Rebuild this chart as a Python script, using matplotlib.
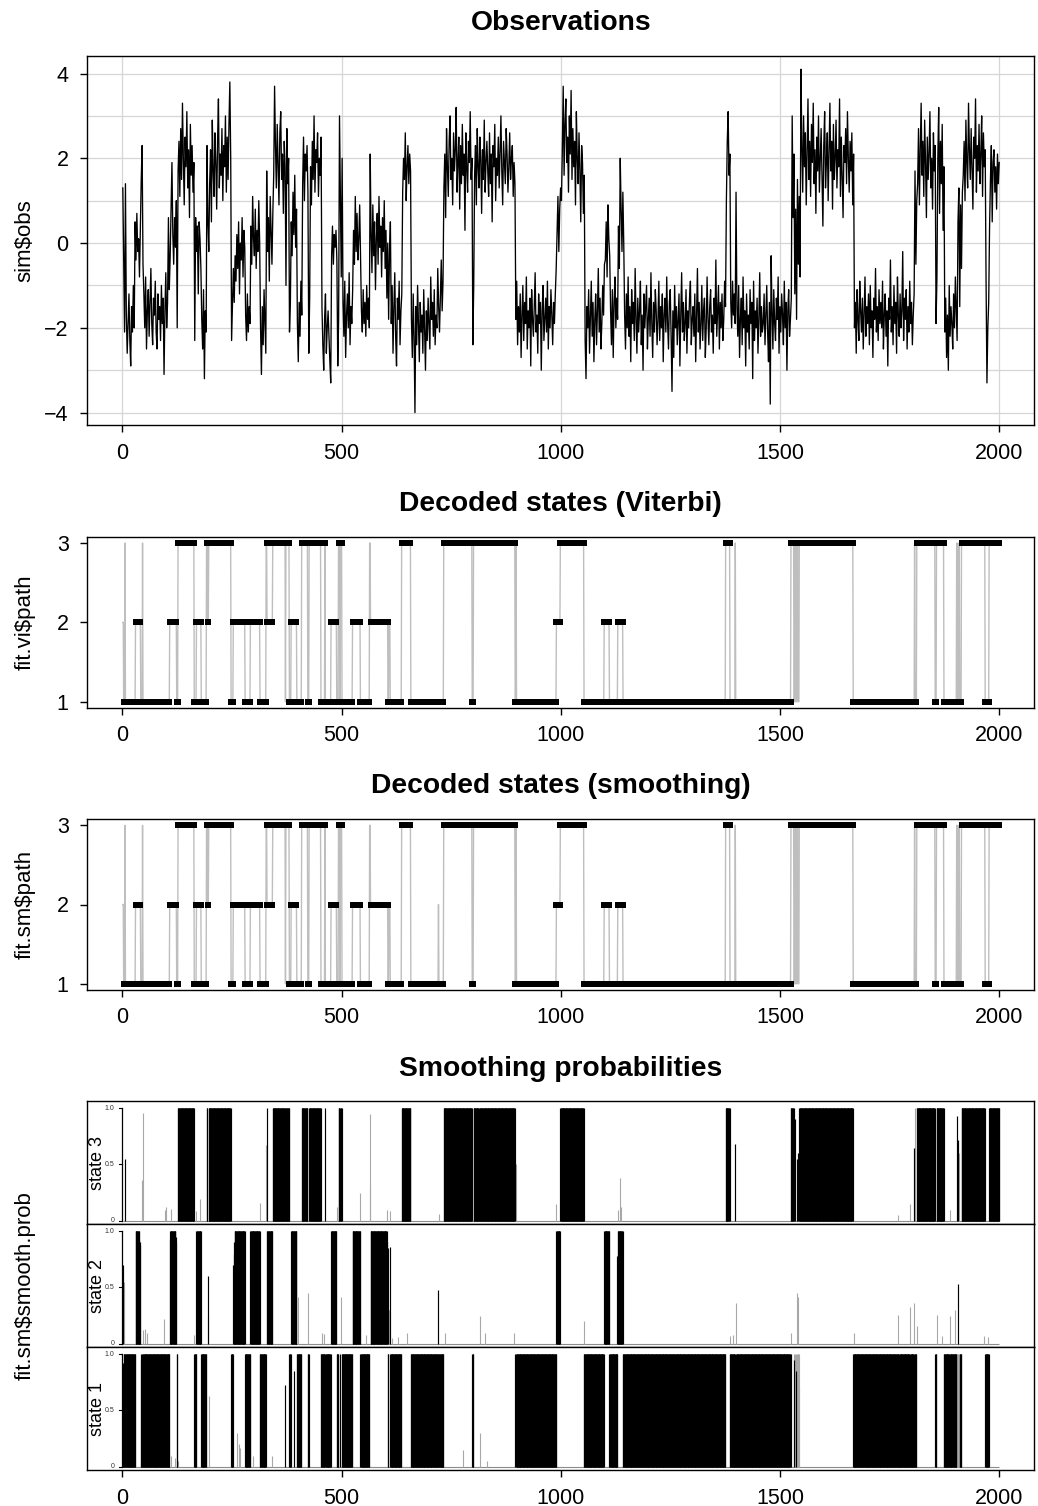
import numpy as np
import matplotlib
matplotlib.use('Agg')
import matplotlib.pyplot as plt

plt.rcParams['font.family'] = ['Liberation Sans', 'DejaVu Sans']

# ---------------- data ----------------
x_ticks = [0, 500, 1000, 1500, 2000]
obs_yticks = [-4, -2, 0, 2, 4]
obs_grid_y = [-4, -3, -2, -1, 0, 1, 2, 3, 4]
state_yticks = [1, 2, 3]
prob_yticks = [0, 0.5, 1.0]
prob_yticklabels = ['0', '0.5', '1.0']
n_time = 2000

# observations (tenths), read along the series at every second time step
obs_tenths = [
    13, -3, -21, 14,
    -17, -26, -19, -12, -23, -29, -15, -21, -10, -20,
    5, -4, 7, -2, 1, -8, 3,
    15, 23, -5,
    -12, -20, -8, -25, -16, -11, -22, -14, -6, -19, -24, -13, -17, -9, -21, -25, -12, -18, -15, -23,
    -10, -19, -13, -31, -16, -7, -20, -14, 6, -11,
    -3, 8, 19, 2, -5, 6, -1, 10,
    -20,
    17, 24, 11, 27, 15, 33, 20, 9, 25, 18, 31, 13, 22, 6, 28, 16, 23, 12, 19,
    -23,
    6, -2, 4, -12, 5, 1, -6,
    -18, -25, -11, -32, -16, -21,
    23, 5, -2,
    14, 22, 5, 29, 17, 11, 26, 19, 8, 24, 34, 13, 21, 16, 27, 10, 23, 18, 30, 12, 25, 15, 28, 38, 20,
    -23, -15, -6,
    -14, -3, -9, 2, -6, 5, -12, 0, -4, 6, -8, 3, -1,
    -17, -23, -12, -21, -15, -19,
    4, -5, 11, 1, -3, 8, -6, 3, -2, 10, 0,
    -20, -31, -15, -24, -11, -19, -26,
    17,
    -2, 6, -9, 11, 3, -5, 7,
    16, 37, 23, 13, 28, 19, 9, 26, 31, 15, 21, 7, 24, 18, -10, 27, 14, 20,
    -21, -14,
    5, -3, 12, 2, 16, -1, 8,
    -19, -28, -14, -22, -9, -17,
    14, 25, 10, 21, 17, 23, 12,
    -26, -13,
    18, 9, 24, 15, 30, 12, 22, 19, 26, 11, 20, 16, 25,
    -15, -24, -30, -18, -12, -26, -20, -16, -22, -28, -33,
    -3, 4, -5, 2, -1, 3, -4,
    -29, -18,
    30, 12, -8, 20,
    -14, -22, -9, -27, -17, -12, -20, -7, -24, -15, -19, -11,
    3, -5, 11, -2, 7, -4, 1, 9, -3,
    -16, -21, -11, -19, -14, -22, -10, -18, -13, -20,
    21,
    2, -7, 9, -3, 5, -11, 1, 7, -5, 11, -1, 4, -8, 6, -2, 10, -6, 3, -13, 0,
    -18, -2, 5,
    -19, -10, -26, -15, -7, -22, -29, -13, -18, -9, -24, -16, -12,
    12, 20, 15, 26, 10, 18, 23, 14, 21, 17,
    -18, -27, -12, -22, -40, -15, -24, -10, -19, -28, -14, -21, -17, -26, -11, -20, -30, -16, -23,
    -13, -19, -25, -8, -18, -14, -22, -11, -24, -17, -20, -6, -15, -21, -12, -4, -16, -9,
    13, 21, 6, 27, 18, 11, 24, 30, 15, 20, 9, 26, 17, 22, 32, 12, 19, 25, 8, 23, 14, 28, 16, 21,
    3, 26, 18, 12, 24, 19, 31, 15, 20,
    -24, -10,
    16, 23, 9, 27, 18, 13, 25, 20, 7, 22, 15, 29, 12, 19, 24, 17, 11, 26, 14, 21, 5, 23, 18, 28,
    10, 20, 16, 25, 13, 22, 30, 17, 9, 24, 19, 14, 27, 21, 12, 18, 26, 15, 20, 23, 11, 19, 14,
    -18, -9, -24, -15, -21, -12, -27, -17, -10, -23, -14, -19, -8, -25, -16, -20, -13, -29, -11, -18,
    -22, -15, -7, -21, -17, -26, -12, -19, -14, -30, -16, -10, -23, -18, -13, -21, -9, -25, -15, -20,
    -11, -17, -24, -14, -19, -12, -6,
    2, 11, -2, 8, 13,
    10, 22, 37, 16, 28, 34, 19, 25, 12, 30, 21, 36, 15, 27, 18, 24, 9, 31, 20, 14, 26, 17, 5, 23, 19, 7, 16,
    -23, -32, -15, -20, -11, -26, -17, -9, -22, -14, -28, -18, -12, -24, -16, -6, -21, -13, -25, -19, -10, -17, -5,
    -4, 5, -8, 9, 1, -3,
    -16, -24, -11, -27, -14, -8, -20, -13, -18,
    4, -6, 20, 8, -2, 12, 0,
    -17, -25, -12, -20, -8, -22, -15, -28, -11, -19, -14, -23, -6, -18, -26, -13, -21, -16, -9, -24,
    -17, -30, -12, -20, -15, -10, -25, -18, -13, -22, -7, -19, -27, -14, -21, -11, -16, -24, -18, -9,
    -23, -15, -20, -12, -28, -17, -13, -21, -8, -19, -25, -14, -11, -22, -35, -16, -27, -10, -20, -15,
    -24, -18, -12, -29, -17, -7, -21, -14, -23, -19, -11, -26, -16, -20, -13, -9, -24, -18, -15, -22,
    -12, -28, -17, -6, -21, -14, -25, -19, -10, -23, -16, -13, -27, -20, -8, -18, -24, -15, -11, -21,
    -17, -26, -13, -19, -4, -22, -16, -10, -25, -14, -20, -12, -23, -18, -9, -15,
    10, 24, 31, 16, 21,
    -14, -20, -9, -17, -12, -19, 12,
    -15, -22, -10, -27, -18, -13, -24, -8, -20, -16, -29, -12, -21, -17, -25, -11, -19, -14, -32, -9,
    -23, -16, -20, -13, -26, -18, -7, -22, -15, -21, -19, -12, -24, -17, -10, -21, -28, -14, -38, -3,
    -16, -25, -11, -19, -23, -13, -18, -8, -26, -15, -21, -12, -17, -24, -9, -20, -14, -30, -16, -11,
    -22, -18, -13,
    30, 6, 21,
    -12, 8, -18, 15, -5, 11, -8,
    41, 23, 12, 30, 18, 26, 9, 21, 34, 15, 24, 11, 28, 19, 33, 14, 22, 7, 25, 17,
    30, 12, 20, 27, 16, 4, 23, 31, 13, 19, 26, 10, 21, 33, 17, 24, 8, 28, 15, 20,
    29, 13, 22, 18, 34, 11, 25, 16, 6, 23, 19, 27, 14, 31, 20, 12, 24, 17, 26, 9, 21,
    -20, -14, -26, -11, -18, -23, -9, -16, -21, -13, -25, -17, -8, -22, -15, -19, -12, -24, -10, -20,
    -16, -27, -13, -18, -6, -21, -15, -23, -11, -19, -14, -20, -9, -25, -17, -12, -22, -16, -29, -13,
    -18, -4, -21, -15, -24, -10, -19, -14, -26, -8, -17, -22, -12, -20, -16, -2, -23, -13, -18, -11,
    -25, -15, -21, -9, -19, -14, -24, -17, -12,
    17, -5, 10,
    14, 27, 9, 22, 33, 16, 24, 11, 29, 19, 6, 25, 15, 21, 31, 13, 20, 8, 26, 17, 23,
    -19, -8,
    20, 32, 7, 24, 14, 28, 3, 18,
    -21, -13, -27, -17, -30, -10, -22, -15, -19, -25, -12, -20, -8, -16, -23,
    5, 13, -15, 9, -6, 12,
    16, 24, 10, 29, 19, 13, 33, 22, 15, 27, 18, 8, 25, 20, 34, 12, 23, 17, 28, 14, 21, 30, 11, 26, 18, 22,
    -9, -33, -20, -14, 4,
    15, 23, 5, 19, 22, 12, 18, 8, 21, 14, 19,
]

# decoded state runs (start time, state); each run lasts until the next start
vi_run_start = [1, 3, 6, 7, 30, 42, 46, 47, 108, 124, 127, 164, 169, 180, 192, 195, 197, 248, 253, 280,
                292, 314, 328, 330, 343, 372, 373, 381, 385, 398, 409, 423, 426, 453, 462, 463, 476, 489,
                493, 496, 497, 501, 525, 543, 564, 566, 606, 608, 611, 637, 658, 733, 798, 801, 896, 898,
                899, 990, 999, 1053, 1099, 1111, 1130, 1142, 1376, 1386, 1398, 1399, 1525, 1532, 1534,
                1535, 1538, 1539, 1540, 1541, 1544, 1667, 1807, 1808, 1812, 1854, 1857, 1874, 1903, 1904,
                1906, 1907, 1909, 1910, 1914, 1968, 1977]
vi_run_state = [2, 1, 3, 1, 2, 1, 3, 1, 2, 1, 3, 1, 2, 1, 3, 2, 3, 1, 2, 1,
                2, 1, 3, 2, 3, 1, 3, 1, 2, 1, 3, 1, 3, 1, 3, 1, 2, 1,
                3, 1, 3, 1, 2, 1, 3, 2, 1, 2, 1, 3, 1, 3, 1, 3, 1, 3,
                1, 2, 3, 1, 2, 1, 2, 1, 3, 1, 3, 1, 3, 1, 3,
                1, 3, 1, 3, 1, 3, 1, 3, 1, 3, 1, 3, 1, 3, 1,
                3, 1, 3, 1, 3, 1, 3]
sm_run_start = [1, 3, 6, 7, 30, 42, 46, 47, 108, 124, 127, 164, 169, 180, 192, 195, 197, 248, 253, 280,
                292, 314, 328, 330, 343, 372, 373, 381, 385, 398, 409, 423, 426, 453, 462, 463, 476, 489,
                493, 496, 497, 501, 525, 543, 564, 566, 606, 608, 611, 637, 658, 721, 722, 733, 798, 801,
                896, 898, 899, 990, 999, 1053, 1099, 1111, 1130, 1142, 1376, 1386, 1398, 1399, 1525, 1532,
                1534, 1535, 1538, 1539, 1540, 1541, 1544, 1667, 1807, 1808, 1812, 1854, 1857, 1874, 1903,
                1904, 1906, 1907, 1909, 1910, 1914, 1968, 1977]
sm_run_state = [2, 1, 3, 1, 2, 1, 3, 1, 2, 1, 3, 1, 2, 1, 3, 2, 3, 1, 2, 1,
                2, 1, 3, 2, 3, 1, 3, 1, 2, 1, 3, 1, 3, 1, 3, 1, 2, 1,
                3, 1, 3, 1, 2, 1, 3, 2, 1, 2, 1, 3, 1, 2, 1, 3, 1, 3,
                1, 3, 1, 2, 3, 1, 2, 1, 2, 1, 3, 1, 3, 1, 3, 1,
                3, 1, 3, 1, 3, 1, 3, 1, 3, 1, 3, 1, 3, 1, 3,
                1, 3, 1, 3, 1, 3, 1, 3]

# time steps where the decoded state differs from the simulated one
misclassified_t = [1, 2, 6, 46, 328, 372, 564, 565, 608, 609, 610, 721, 898, 1398,
                   1532, 1533, 1534, 1535, 1536, 1537, 1538, 1539, 1540, 1541, 1542, 1543,
                   1807, 1903, 1904, 1905, 1906, 1907, 1908, 1909]

# smoothing probabilities that are not ~0/1 (time, probability, drawn dark)
s3_spike_t = [6, 44, 46, 97, 100, 112, 169, 178, 192, 314, 328, 489, 542, 564, 565, 603, 610, 723, 814,
              898, 989, 1130, 1134, 1137, 1398, 1534, 1538, 1540, 1769, 1796, 1805, 1888, 1903, 1906, 1909]
s3_spike_p = [0.55, 0.36, 0.96, 0.10, 0.12, 0.11, 0.09, 0.19, 0.92, 0.16, 0.67, 0.12, 0.25, 0.95, 0.30,
              0.10, 0.09, 0.06, 0.30, 0.50, 0.15, 0.10, 0.38, 0.12, 0.68, 0.90, 0.55, 0.60, 0.05, 0.15,
              0.65, 0.10, 0.93, 0.72, 0.60]
s3_spike_dark = [1, 0, 0, 0, 0, 0, 0, 0, 0, 0, 0, 0, 0, 0, 0, 0, 0, 0, 1, 0, 0, 0, 0, 0, 1, 1, 1, 1,
                 0, 0, 1, 0, 1, 1, 0]
s2_spike_t = [1, 2, 3, 4, 39, 40, 41, 48, 52, 56, 95, 108, 122, 123, 163, 195, 196, 253, 254, 255, 400,
              424, 455, 460, 498, 556, 604, 605, 608, 609, 610, 615, 628, 650, 721, 735, 816, 828, 894,
              1052, 1129, 1385, 1393, 1399, 1525, 1539, 1541, 1668, 1769, 1796, 1805, 1812, 1858, 1870,
              1887, 1900, 1907, 1966, 1974]
s2_spike_p = [0.70, 0.58, 0.50, 0.55, 0.92, 0.90, 0.88, 0.12, 0.13, 0.10, 0.22, 0.93, 0.95, 0.90, 0.08,
              0.25, 0.60, 0.70, 0.80, 0.90, 0.42, 0.45, 0.10, 0.09, 0.42, 0.08, 0.90, 0.85, 0.30, 0.30,
              0.86, 0.05, 0.06, 0.10, 0.48, 0.10, 0.25, 0.10, 0.10, 0.20, 0.78, 0.07, 0.08, 0.36, 0.10,
              0.45, 0.42, 0.10, 0.26, 0.33, 0.36, 0.16, 0.26, 0.07, 0.25, 0.30, 0.53, 0.07, 0.06]
s2_spike_dark = [1, 0, 0, 0, 1, 1, 1, 0, 0, 0, 0, 1, 1, 1, 0, 0, 1, 1, 1, 1, 0,
                 0, 0, 0, 0, 0, 1, 1, 0, 0, 1, 0, 0, 0, 1, 0, 0, 0, 0,
                 0, 1, 0, 0, 0, 0, 0, 0, 0, 0, 0, 0, 0, 0, 0,
                 0, 0, 1, 0, 0]
s1_spike_t = [1, 2, 43, 44, 112, 119, 126, 198, 262, 265, 268, 298, 342, 372, 391, 776, 816, 831,
              1398, 1400, 1533, 1537, 1544, 1771, 1796, 1805, 1888]
s1_spike_p = [0.92, 0.90, 0.95, 0.97, 0.10, 0.08, 0.05, 0.63, 0.30, 0.20, 0.17, 0.10, 0.10, 0.73, 0.85,
              0.15, 0.30, 0.05, 0.80, 0.80, 0.95, 0.85, 0.70, 0.90, 0.70, 0.80, 0.70]
s1_spike_dark = [1, 1, 1, 1, 0, 0, 0, 0, 0, 0, 0, 0, 0, 1, 1, 0, 0, 0, 1, 1, 1, 1, 0, 1, 1, 1, 1]

titles = ['Observations', 'Decoded states (Viterbi)', 'Decoded states (smoothing)', 'Smoothing probabilities']
ylabels = ['sim$obs', 'fit.vi$path', 'fit.sm$path', 'fit.sm$smooth.prob']
state_labels = ['state 3', 'state 2', 'state 1']

# ---------------- helpers ----------------
W, H = 1038, 1506
fig = plt.figure(figsize=(W / 100, H / 100), dpi=100)

def rect(l, t, r, b):
    return [l / W, 1 - b / H, (r - l) / W, (b - t) / H]

def expand(starts, states, n):
    path = np.zeros(n, dtype=int)
    for i, s in enumerate(starts):
        e = starts[i + 1] - 1 if i + 1 < len(starts) else n
        path[s - 1:e] = states[i]
    return path

L, R = 87.3, 1034.3
XLIM = (-80, 2080)
TICK_FS = 15.5
TITLE_FS = 20.3
GREY_LINE = '#bebebe'
GREY_SPIKE = '#a8a8a8'

def style(ax, xlabels=True):
    ax.set_xlim(*XLIM)
    ax.set_xticks(x_ticks)
    if xlabels:
        ax.set_xticklabels([str(v) for v in x_ticks])
    for sp in ax.spines.values():
        sp.set_linewidth(1.0)
    ax.tick_params(axis='both', direction='out', length=5, width=1.0, labelsize=TICK_FS)
    ax.tick_params(axis='x', pad=7.5)
    ax.tick_params(axis='y', pad=8.4)

def title(text, baseline_px):
    fig.text((L + R) / 2 / W, 1 - baseline_px / H, text, ha='center', va='baseline',
             fontsize=TITLE_FS, fontweight='bold')

def ylab(text, center_px):
    fig.text(25 / W, 1 - center_px / H, text, ha='center', va='center', rotation=90, fontsize=16)

# ---------------- observations ----------------
ax = fig.add_axes(rect(L, 55.7, R, 425.3))
obs = np.array(obs_tenths) / 10.0
t_obs = np.linspace(1, n_time, len(obs))
for gx in x_ticks:
    ax.axvline(gx, color='#d6d6d6', lw=0.9, zorder=0)
for gy in obs_grid_y:
    ax.axhline(gy, color='#d6d6d6', lw=0.9, zorder=0)
ax.plot(t_obs, obs, color='black', lw=0.95, zorder=2)
ax.set_ylim(-4.30, 4.42)
ax.set_yticks(obs_yticks)
ax.set_yticklabels(['\u22124', '\u22122', '0', '2', '4'])
style(ax)
title(titles[0], 30)
ylab(ylabels[0], 240.5)

# ---------------- decoded paths ----------------
t_all = np.arange(1, n_time + 1)
mis = np.isin(t_all, misclassified_t)
vi_path = expand(vi_run_start, vi_run_state, n_time)
sm_path = expand(sm_run_start, sm_run_state, n_time)

for path, (top, bot), ti, yl, tb in [
        (vi_path, (536.7, 708.0), titles[1], ylabels[1], 511),
        (sm_path, (819.0, 990.0), titles[2], ylabels[2], 793)]:
    ax = fig.add_axes(rect(L, top, R, bot))
    ax.plot(t_all, path, color=GREY_LINE, lw=1.0, zorder=1)
    ok = ~mis
    ax.plot(t_all[ok], path[ok], ls='none', marker='s', ms=3.8, mew=0, color='black', zorder=2)
    ax.set_ylim(0.92, 3.08)
    ax.set_yticks(state_yticks)
    ax.set_yticklabels([str(v) for v in state_yticks])
    style(ax)
    title(ti, tb)
    ylab(yl, (top + bot) / 2)

# ---------------- smoothing probabilities ----------------
spikes = {3: (s3_spike_t, s3_spike_p, s3_spike_dark),
          2: (s2_spike_t, s2_spike_p, s2_spike_dark),
          1: (s1_spike_t, s1_spike_p, s1_spike_dark)}
bounds = [(1101.3, 1224.3), (1224.3, 1347.3), (1347.3, 1470.3)]
for idx, k in enumerate([3, 2, 1]):
    top, bot = bounds[idx]
    ax = fig.add_axes(rect(L, top, R, bot))
    p = (sm_path == k).astype(float)
    dark = (sm_path == k) & ~mis
    st, sp_, sd = spikes[k]
    for tt, pp, dd in zip(st, sp_, sd):
        p[tt - 1] = pp
        dark[tt - 1] = bool(dd)
    ax.hlines(0, 1, n_time, color='#8c8c8c', lw=0.8, zorder=1)
    g = (p > 0) & ~dark
    b = (p > 0) & dark
    ax.vlines(t_all[g], 0, p[g], color=GREY_SPIKE, lw=0.8, zorder=2)
    ax.vlines(t_all[b], 0, p[b], color='black', lw=0.85, zorder=3)
    ax.set_ylim(-0.03, 1.06)
    # inner axis at x = 0
    ax.plot([0, 0], [0, 1], color='black', lw=0.9, zorder=4)
    for yv, lab in zip(prob_yticks, prob_yticklabels):
        ax.plot([-8, 0], [yv, yv], color='black', lw=0.8, zorder=4)
        ax.text(-18, yv, lab, ha='right', va='center', fontsize=5, color='#333333')
    ax.set_yticks([])
    if idx < 2:
        ax.set_xticks([])
        ax.set_xlim(*XLIM)
        for s in ax.spines.values():
            s.set_linewidth(1.0)
    else:
        style(ax)
    fig.text(97 / W, 1 - (top + bot) / 2 / H, state_labels[idx], ha='center', va='center',
             rotation=90, fontsize=13)

title(titles[3], 1075.5)
ylab(ylabels[3], 1285.8)

fig.savefig('out.png', dpi=100)
